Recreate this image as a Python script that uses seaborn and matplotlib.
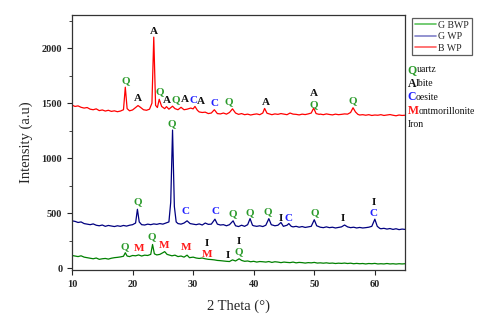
import numpy as np
import pandas as pd
import matplotlib
matplotlib.use("Agg")
import matplotlib.pyplot as plt
from matplotlib.lines import Line2D
from matplotlib.ticker import MultipleLocator
import seaborn as sns

# ---------------- data ----------------
bwp_x = [10, 10.5, 11, 11.5, 12, 12.5, 13, 13.5, 14, 14.5, 15, 15.5, 16, 16.5, 17, 17.5, 18, 18.5, 18.8, 19.1,
         19.5, 20, 20.5, 20.9, 21.3, 21.8, 22.3, 22.8, 23.2, 23.5, 23.8, 24.1, 24.4, 24.8, 25.3, 25.6, 26, 26.6,
         27, 27.5, 28, 28.5, 29, 29.6, 30, 30.3, 30.7, 31, 31.5, 32, 32.5, 33, 33.5, 34, 34.5, 35, 35.5, 36, 36.5,
         37, 37.5, 38, 38.5, 39, 39.5, 40, 40.5, 41, 41.5, 41.8, 42.2, 42.7, 43, 43.5, 44, 44.5, 45, 45.5, 46, 46.5,
         47, 47.5, 48, 48.5, 49, 49.5, 49.9, 50.3, 50.8, 51, 51.5, 52, 52.5, 53, 53.5, 54, 54.5, 55, 55.5, 56, 56.4,
         56.8, 57.2, 57.5, 58, 58.5, 59, 59.5, 60, 60.5, 61, 61.5, 62, 62.5, 63, 63.5, 64, 64.5, 65]
bwp_y = [1482, 1470, 1475, 1462, 1455, 1460, 1445, 1440, 1448, 1432, 1438, 1428, 1435, 1425, 1430, 1422, 1428, 1440, 1645, 1450,
         1430, 1438, 1460, 1478, 1462, 1440, 1435, 1445, 1500, 2100, 1480, 1460, 1535, 1470, 1450, 1468, 1445, 1472,
         1450, 1440, 1462, 1440, 1445, 1455, 1448, 1470, 1435, 1420, 1415, 1418, 1405, 1410, 1440, 1405, 1402, 1410, 1400, 1415, 1448,
         1410, 1398, 1405, 1395, 1400, 1392, 1398, 1402, 1395, 1410, 1452, 1408, 1400, 1395, 1402, 1398, 1405, 1400, 1395, 1410, 1400,
         1398, 1393, 1400, 1396, 1402, 1410, 1455, 1405, 1398, 1400, 1395, 1402, 1397, 1393, 1400, 1395, 1398, 1402, 1400, 1415, 1458,
         1420, 1398, 1392, 1395, 1390, 1395, 1388, 1392, 1390, 1395, 1388, 1392, 1396, 1390, 1385, 1392, 1388, 1390]

gwp_x = [10, 10.5, 11, 11.5, 12, 12.5, 13, 13.5, 14, 14.5, 15, 15.5, 16, 16.5, 17, 17.5, 18, 18.5, 19, 19.5, 20, 20.5,
         20.8, 21.1, 21.5, 22, 22.5, 23, 23.5, 24, 24.5, 25, 25.5, 26, 26.3, 26.6, 26.9, 27.2, 27.5, 28, 28.5, 29, 29.5,
         30, 30.5, 31, 31.5, 32, 32.5, 33, 33.6, 34, 34.5, 35, 35.5, 36, 36.6, 37, 37.5, 38, 38.5, 39, 39.4, 39.8, 40,
         40.5, 41, 41.5, 42, 42.5, 42.9, 43.5, 44, 44.5, 44.9, 45.5, 45.8, 46.2, 46.5, 47, 47.5, 48, 48.5, 49, 49.5, 50,
         50.4, 51, 51.5, 52, 52.5, 53, 53.5, 54, 54.5, 55, 55.5, 56, 56.5, 57, 57.5, 58, 58.5, 59, 59.5, 60, 60.4, 60.8,
         61, 61.5, 62, 62.5, 63, 63.5, 64, 64.5, 65]
gwp_y = [430, 425, 415, 420, 405, 400, 395, 402, 390, 385, 392, 380, 388, 383, 378, 385, 380, 388, 382, 390, 395, 410,
         535, 420, 395, 392, 400, 395, 402, 398, 405, 400, 410, 420, 600, 1255, 560, 420, 405, 400, 410, 430, 405,
         400, 395, 402, 392, 410, 398, 400, 445, 400, 392, 395, 385, 395, 430, 385, 378, 390, 380, 395, 450, 390, 385,
         380, 385, 378, 390, 450, 395, 385, 390, 415, 380, 390, 405, 380, 375, 380, 372, 378, 370, 375, 380, 440,
         385, 372, 368, 375, 368, 372, 365, 370, 375, 392, 375, 368, 372, 365, 370, 365, 368, 372, 380, 445, 380, 362,
         358, 362, 355, 360, 352, 358, 350, 355, 352]

gbwp_x = [10, 10.5, 11, 11.5, 12, 12.5, 13, 13.5, 14, 14.5, 15, 15.5, 16, 16.5, 17, 17.5, 18, 18.5, 18.8, 19.1, 19.5,
          20, 20.5, 21, 21.5, 22, 22.5, 23, 23.3, 23.6, 24, 24.5, 25, 25.3, 25.7, 26, 26.5, 27, 27.5, 28, 28.5, 29,
          29.4, 30, 30.5, 31, 31.5, 32, 32.5, 33, 33.5, 34, 34.5, 35, 35.5, 36, 36.5, 37, 37.6, 38, 38.5, 39, 39.5,
          40, 40.5, 41, 41.5, 42, 42.5, 43, 43.5, 44, 44.5, 45, 45.5, 46, 46.5, 47, 47.5, 48, 48.5, 49, 49.5, 50,
          50.5, 51, 51.5, 52, 52.5, 53, 53.5, 54, 54.5, 55, 55.5, 56, 56.5, 57, 57.5, 58, 58.5, 59, 59.5, 60, 60.5,
          61, 61.5, 62, 62.5, 63, 63.5, 64, 64.5, 65]
gbwp_y = [115, 110, 105, 112, 100, 95, 90, 85, 92, 80, 85, 88, 82, 90, 95, 98, 102, 108, 140, 110, 105,
          115, 112, 120, 110, 118, 115, 125, 215, 130, 120, 125, 140, 150, 125, 120, 112, 118, 105, 110, 100, 118,
          95, 100, 92, 88, 92, 85, 80, 78, 75, 70, 68, 65, 62, 60, 75, 65, 85, 70, 62, 65, 58,
          62, 55, 60, 58, 55, 60, 52, 58, 55, 50, 55, 52, 50, 55, 48, 52, 50, 46, 50, 48, 52,
          46, 48, 45, 48, 44, 46, 42, 45, 43, 46, 42, 45, 40, 43, 40, 42, 38, 42, 40, 43, 38,
          40, 38, 42, 38, 40, 37, 40, 38, 40]

series_names = ["GBWP", "GWP", "BWP"]
legend_labels = ["G BWP", "G WP", "B WP"]
series_colors = ["#008000", "#000080", "#ff0000"]
legend_colors = ["#5cc25c", "#8080c8", "#ff5c5c"]

# peak labels: letter, x, y
label_text = ["Q", "A", "A", "Q", "A", "Q", "A", "C", "A", "C", "Q", "A", "A", "Q", "Q",
              "Q", "Q", "C", "C", "Q", "Q", "Q", "I", "C", "Q", "I", "I", "C",
              "Q", "M", "Q", "M", "M", "I", "M", "I", "I", "Q"]
label_x = [18.8, 20.9, 23.5, 24.5, 25.6, 27.1, 28.7, 30.0, 31.3, 33.5, 35.8, 42.0, 49.9, 49.9, 56.4,
           26.5, 20.8, 28.8, 33.7, 36.6, 39.4, 42.4, 44.4, 45.7, 50.0, 54.7, 59.8, 59.8,
           18.7, 21.0, 23.2, 25.2, 28.9, 32.3, 32.3, 35.8, 37.6, 37.6]
label_y = [1700, 1540, 2150, 1600, 1520, 1535, 1530, 1520, 1515, 1495, 1515, 1510, 1590, 1490, 1525,
           1310, 600, 515, 515, 495, 500, 510, 455, 455, 500, 455, 595, 500,
           195, 178, 285, 205, 192, 225, 125, 112, 240, 150]

phase_letters = ["Q", "A", "C", "M", ""]
phase_rest = ["uartz", "lbite", "oesite", "ontmorillonite", "Iron"]
letter_colors = {"Q": "#2a9a2a", "A": "#111111", "C": "#2020ff", "M": "#ff1a1a", "I": "#111111"}

# ---------------- plotting ----------------
sns.set_style("ticks")
plt.rcParams["font.family"] = ["Liberation Serif", "DejaVu Serif"]

fig = plt.figure(figsize=(4.8, 3.29), dpi=100)
ax = fig.add_axes([0.15, 0.179, 0.694, 0.775])

frames = []
for name, xs, ys in [("GBWP", gbwp_x, gbwp_y), ("GWP", gwp_x, gwp_y), ("BWP", bwp_x, bwp_y)]:
    frames.append(pd.DataFrame({"x": xs, "y": ys, "s": name}))
df = pd.concat(frames, ignore_index=True)

sns.lineplot(data=df, x="x", y="y", hue="s", hue_order=series_names,
             palette=dict(zip(series_names, series_colors)), estimator=None, sort=False,
             linewidth=0.9, legend=False, ax=ax)

for t, x, y in zip(label_text, label_x, label_y):
    ax.text(x, y, t, color=letter_colors[t], fontsize=8, fontweight="bold",
            ha="center", va="center")

ax.set_xlim(10, 65)
ax.set_ylim(-18, 2300)
ax.set_xticks([10, 20, 30, 40, 50, 60])
ax.set_yticks([0, 500, 1000, 1500, 2000])
ax.yaxis.set_minor_locator(MultipleLocator(250))
ax.tick_params(axis="both", which="major", direction="out", length=3.5, width=0.8, labelsize=7.5)
ax.tick_params(axis="y", which="minor", direction="out", length=2, width=0.6)
for lab in ax.get_xticklabels() + ax.get_yticklabels():
    lab.set_fontweight("bold")
for sp in ax.spines.values():
    sp.set_linewidth(0.9)
    sp.set_color("#333333")

ax.set_xlabel("2 Theta (°)", fontsize=10.5, labelpad=8)
ax.set_ylabel("Intensity (a.u)", fontsize=10.5, labelpad=6)

handles = [Line2D([0], [0], color=c, lw=1.2) for c in legend_colors]
leg = fig.legend(handles, legend_labels, loc="upper left", bbox_to_anchor=(0.858, 0.946),
                 fontsize=7, frameon=True, fancybox=False, edgecolor="#333333",
                 handlelength=2.2, handletextpad=0.2, borderpad=0.3, labelspacing=0.25,
                 borderaxespad=0)
leg.get_frame().set_linewidth(0.9)

fig.canvas.draw()
renderer = fig.canvas.get_renderer()
y0 = 1 - 70 / 329
dy = 13.7 / 329
x0 = 0.849
for i, (first, rest) in enumerate(zip(phase_letters, phase_rest)):
    yy = y0 - i * dy
    xx = x0
    if first:
        t1 = fig.text(xx, yy, first, color=letter_colors[first], fontsize=8.5, fontweight="bold",
                      ha="left", va="center")
        bb = t1.get_window_extent(renderer)
        xx = xx + bb.width / fig.bbox.width
    fig.text(xx, yy, rest, color="#111111", fontsize=7, ha="left", va="center")

fig.savefig("out.png", dpi=100, facecolor="white")
